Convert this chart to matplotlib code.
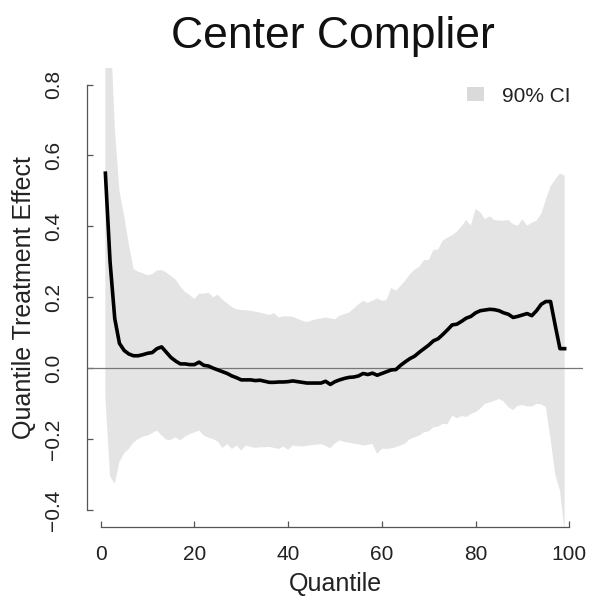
import numpy as np
import matplotlib
matplotlib.use("Agg")
import matplotlib.pyplot as plt
from matplotlib.patches import Patch

plt.rcParams["font.family"] = ["Liberation Sans", "DejaVu Sans"]

# quantiles 1..99
quantile = np.arange(1, 100)

effect = [
    0.55, 0.30, 0.14, 0.07, 0.05, 0.04, 0.035, 0.035, 0.038, 0.042,
    0.044, 0.055, 0.06, 0.045, 0.03, 0.02, 0.012, 0.012, 0.01, 0.01,
    0.017, 0.008, 0.006, 0.0, -0.005, -0.01, -0.015, -0.022, -0.027, -0.033,
    -0.033, -0.033, -0.035, -0.034, -0.037, -0.04, -0.04, -0.039, -0.039, -0.038,
    -0.036, -0.038, -0.04, -0.042, -0.042, -0.042, -0.042, -0.037, -0.046, -0.038,
    -0.033, -0.029, -0.026, -0.025, -0.022, -0.015, -0.018, -0.014, -0.02, -0.015,
    -0.01, -0.005, -0.004, 0.008, 0.018, 0.027, 0.034, 0.045, 0.055, 0.065,
    0.077, 0.083, 0.095, 0.108, 0.122, 0.124, 0.132, 0.141, 0.146, 0.156,
    0.162, 0.164, 0.166, 0.165, 0.162, 0.156, 0.152, 0.143, 0.146, 0.15,
    0.154, 0.148, 0.162, 0.18, 0.188, 0.188, 0.12, 0.055, 0.055,
]

ci_upper = [
    1.4, 1.0, 0.68, 0.50, 0.43, 0.35, 0.28, 0.272, 0.268, 0.262,
    0.265, 0.275, 0.277, 0.27, 0.26, 0.25, 0.23, 0.215, 0.206, 0.195,
    0.21, 0.21, 0.213, 0.2, 0.207, 0.193, 0.183, 0.172, 0.166, 0.164,
    0.163, 0.162, 0.159, 0.157, 0.153, 0.15, 0.155, 0.143, 0.146, 0.146,
    0.145, 0.139, 0.134, 0.13, 0.134, 0.138, 0.14, 0.143, 0.14, 0.138,
    0.148, 0.152, 0.157, 0.168, 0.18, 0.19, 0.184, 0.19, 0.197, 0.19,
    0.192, 0.226, 0.218, 0.232, 0.247, 0.265, 0.278, 0.286, 0.305, 0.305,
    0.333, 0.335, 0.36, 0.368, 0.375, 0.385, 0.40, 0.418, 0.402, 0.449,
    0.44, 0.42, 0.428, 0.418, 0.416, 0.416, 0.418, 0.406, 0.402, 0.42,
    0.402, 0.41, 0.416, 0.435, 0.475, 0.513, 0.532, 0.549, 0.543,
]

ci_lower = [
    -0.08, -0.305, -0.326, -0.265, -0.24, -0.228, -0.21, -0.2, -0.193, -0.19,
    -0.183, -0.176, -0.19, -0.202, -0.202, -0.195, -0.204, -0.193, -0.186, -0.181,
    -0.176, -0.19, -0.196, -0.2, -0.207, -0.225, -0.214, -0.228, -0.218, -0.232,
    -0.218, -0.222, -0.225, -0.223, -0.223, -0.222, -0.225, -0.228, -0.221, -0.23,
    -0.218, -0.22, -0.221, -0.219, -0.217, -0.216, -0.214, -0.219, -0.226, -0.212,
    -0.204, -0.208, -0.21, -0.213, -0.215, -0.218, -0.216, -0.214, -0.242, -0.227,
    -0.228, -0.226, -0.223, -0.218, -0.212, -0.2, -0.195, -0.19, -0.181, -0.178,
    -0.167, -0.165, -0.157, -0.158, -0.134, -0.141, -0.135, -0.138, -0.129, -0.124,
    -0.114, -0.1, -0.097, -0.092, -0.087, -0.094, -0.11, -0.118, -0.106, -0.104,
    -0.108, -0.108, -0.101, -0.102, -0.11, -0.2, -0.3, -0.345, -0.46,
]

x_ticks = [0, 20, 40, 60, 80, 100]
y_ticks = [-0.4, -0.2, 0.0, 0.2, 0.4, 0.6, 0.8]
y_tick_labels = ["\u22120.4", "\u22120.2", "0.0", "0.2", "0.4", "0.6", "0.8"]

band_color = "#e4e4e4"
axis_color = "#555555"
text_color = "#222222"

fig = plt.figure(figsize=(5.89, 5.99), dpi=100)
ax = fig.add_axes([87 / 589, 1 - 527 / 599, (583 - 87) / 589, (527 - 67.5) / 599])

ax.fill_between(quantile, ci_lower, ci_upper, color=band_color, lw=0)
ax.axhline(0, color="#777777", lw=0.9)
ax.plot(quantile, effect, color="black", lw=2.6, solid_joinstyle="round")

ax.set_xlim(-2.92, 102.92)
ax.set_ylim(-0.448, 0.848)

# R-style axes: no box, axis lines only over the tick range
for side in ["top", "right"]:
    ax.spines[side].set_visible(False)
for side in ["left", "bottom"]:
    ax.spines[side].set_color(axis_color)
    ax.spines[side].set_linewidth(0.9)
ax.spines["left"].set_bounds(-0.4, 0.8)
ax.spines["bottom"].set_bounds(0, 100)

ax.set_xticks(x_ticks)
ax.set_yticks(y_ticks)
ax.set_yticklabels(y_tick_labels, rotation=90, va="center")
ax.tick_params(axis="both", direction="in", length=4, width=0.9,
               color=axis_color, labelsize=15, labelcolor=text_color)
ax.tick_params(axis="x", pad=13)
ax.tick_params(axis="y", pad=17)

ax.set_xlabel("Quantile", fontsize=18, color=text_color, labelpad=6)
ax.set_ylabel("Quantile Treatment Effect", fontsize=18, color=text_color, labelpad=6)

fig.text(333 / 589, 1 - 48 / 599, "Center Complier", fontsize=32,
         ha="center", va="baseline", color="#111111")

ax.legend(handles=[Patch(facecolor="#dadada", edgecolor="none")], labels=["90% CI"],
          loc="center right", bbox_to_anchor=(571 / 589, 1 - 96 / 599),
          bbox_transform=fig.transFigure, frameon=False, fontsize=15,
          handlelength=0.82, handleheight=0.67, handletextpad=0.9,
          borderpad=0, borderaxespad=0, labelcolor=text_color)

fig.savefig("out.png", dpi=100)
